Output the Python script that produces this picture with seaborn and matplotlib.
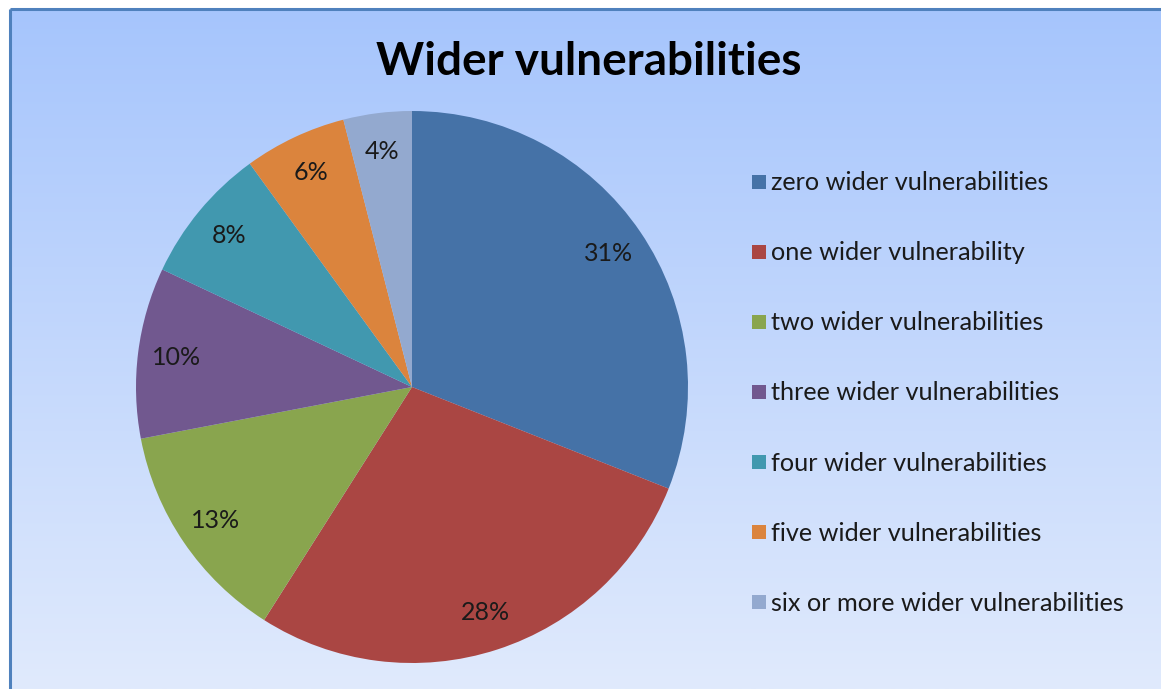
import numpy as np
import matplotlib
matplotlib.use("Agg")
import matplotlib.pyplot as plt
from matplotlib.lines import Line2D
import seaborn as sns

# ---- data ----
categories = ["zero wider vulnerabilities", "one wider vulnerability",
              "two wider vulnerabilities", "three wider vulnerabilities",
              "four wider vulnerabilities", "five wider vulnerabilities",
              "six or more wider vulnerabilities"]
shares = [31, 28, 13, 10, 8, 6, 4]
colors = ["#4572A7", "#AA4643", "#89A54E", "#71588F", "#4198AF", "#DB843D", "#93A9CF"]
title = "Wider vulnerabilities"

sns.set_theme(style="white")
sns.set_palette(colors)
plt.rcParams['font.family'] = ['Lato', 'DejaVu Sans']

W, H = 1161, 689
fig = plt.figure(figsize=(W / 100, H / 100), dpi=100)
fig.patch.set_facecolor("white")

# background gradient panel
bg = fig.add_axes([0, 0, 1, 1], zorder=0)
bg.set_xlim(0, W)
bg.set_ylim(H, 0)
bg.axis("off")
top = np.array([166, 197, 253]) / 255
bot = np.array([224, 234, 252]) / 255
t = np.linspace(0, 1, 256)[:, None]
grad = (top[None, :] * (1 - t) + bot[None, :] * t)[:, None, :]
bg.imshow(grad, extent=[10, W, H, 9], aspect="auto", interpolation="bilinear")
bg.plot([10, 10], [H, 9], color="#4f81bd", lw=2.2, solid_capstyle="butt")
bg.plot([10, W], [9, 9], color="#4f81bd", lw=2.2, solid_capstyle="butt")

# pie
cx, cy, r = 412, 387, 276
ax = fig.add_axes([(cx - r) / W, (H - cy - r) / H, 2 * r / W, 2 * r / H], zorder=1)
ax.set_facecolor("none")
wedges, texts, autotexts = ax.pie(
    shares, colors=sns.color_palette(colors), startangle=90, counterclock=False,
    autopct=lambda p: f"{p:.0f}%", pctdistance=0.86, radius=1.0,
    wedgeprops=dict(linewidth=0), textprops=dict(fontsize=18, color="#1a1a1a"))
ax.set_xlim(-1, 1)
ax.set_ylim(-1, 1)
ax.set_aspect("equal")
ax.axis("off")

# title
fig.text(589 / W, 1 - 62 / H, title, ha="center", va="center",
         fontsize=33, fontweight="bold", color="black")

# legend
handles = [Line2D([0], [0], marker="s", linestyle="none", markersize=10,
                  markerfacecolor=c, markeredgewidth=0) for c in colors]
fig.legend(handles, categories, loc="center left",
           bbox_to_anchor=(729 / W, 1 - 393 / H), frameon=False,
           fontsize=18.2, labelspacing=1.86, handlelength=0.55, handletextpad=0.2,
           labelcolor="#1a1a1a")

fig.savefig("out.png", dpi=100)
